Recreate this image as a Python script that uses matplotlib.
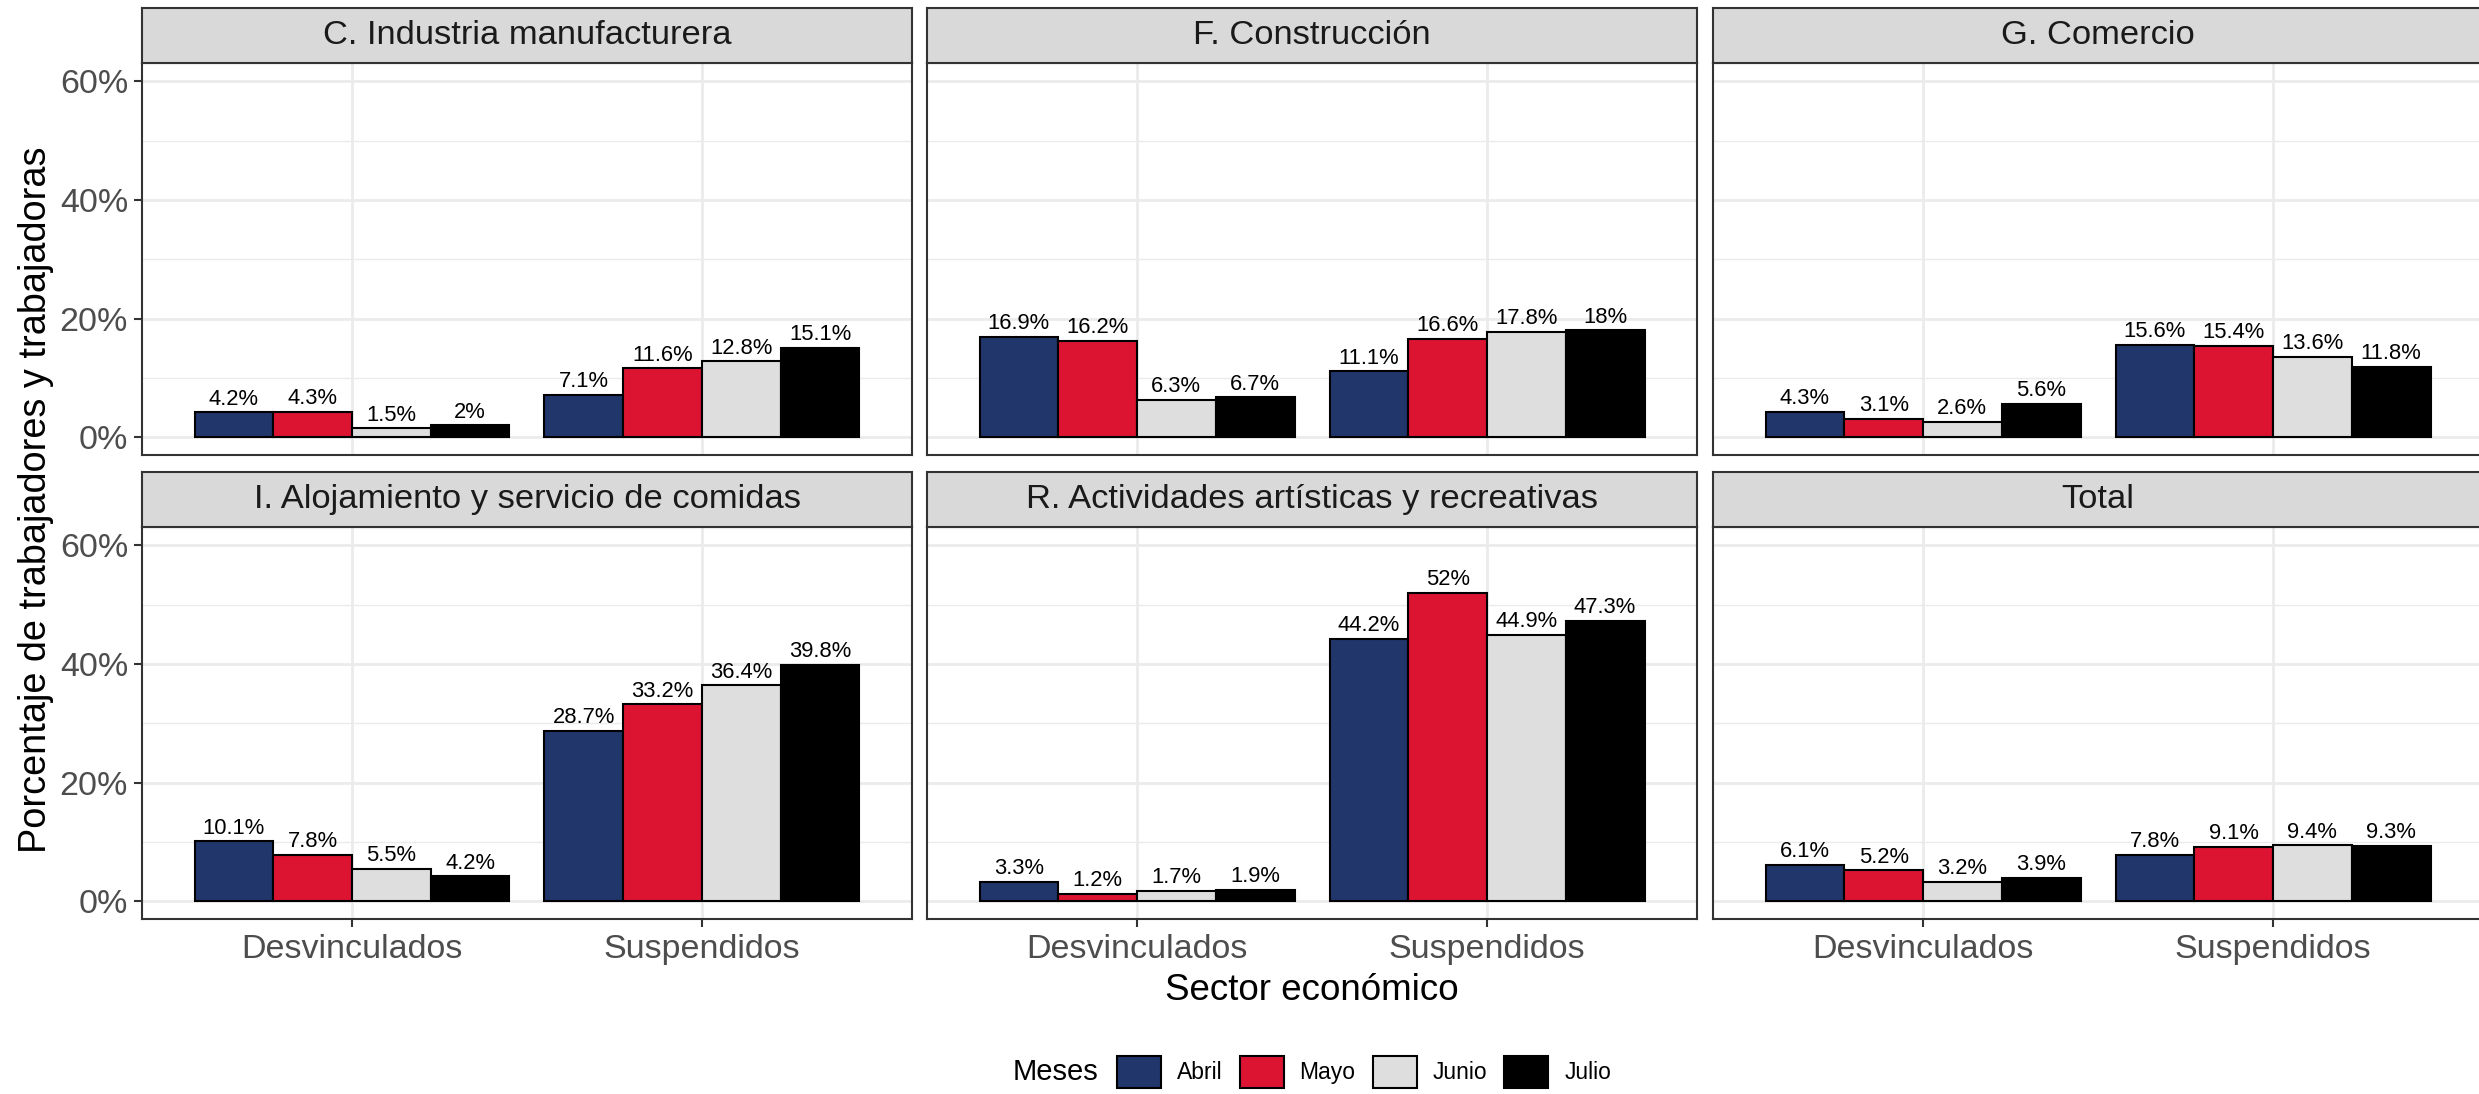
import matplotlib
matplotlib.use("Agg")
import matplotlib.pyplot as plt
from matplotlib.patches import Patch
import numpy as np

plt.rcParams['font.family'] = ['Liberation Sans', 'DejaVu Sans']

# ---------------------------------------------------------------------------- #
# DATA

sectores = ["C. Industria manufacturera", "F. Construcción", "G. Comercio",
            "I. Alojamiento y servicio de comidas",
            "R. Actividades artísticas y recreativas", "Total"]
categorias = ["Desvinculados", "Suspendidos"]
meses = ["Abril", "Mayo", "Junio", "Julio"]
colores = ["#21366B", "#DC1432", "#DEDEDE", "#000000"]

# valores[sector] -> [desvinculados por mes, suspendidos por mes]
industria = [[4.2, 4.3, 1.5, 2.0], [7.1, 11.6, 12.8, 15.1]]
construccion = [[16.9, 16.2, 6.3, 6.7], [11.1, 16.6, 17.8, 18.0]]
comercio = [[4.3, 3.1, 2.6, 5.6], [15.6, 15.4, 13.6, 11.8]]
alojamiento = [[10.1, 7.8, 5.5, 4.2], [28.7, 33.2, 36.4, 39.8]]
actividades = [[3.3, 1.2, 1.7, 1.9], [44.2, 52.0, 44.9, 47.3]]
total = [[6.1, 5.2, 3.2, 3.9], [7.8, 9.1, 9.4, 9.3]]
valores = [industria, construccion, comercio, alojamiento, actividades, total]

yticks = [0, 20, 40, 60]
yticklabels = ["0%", "20%", "40%", "60%"]

# ---------------------------------------------------------------------------- #
# LAYOUT (pixels)

W, H = 2479, 1094
fig = plt.figure(figsize=(W / 100, H / 100), dpi=100)

col_left = [142, 927, 1713]
panel_w = 770
row_strip_top = [8, 472]
row_panel_top = [63, 527]
row_panel_bot = [455, 919]

borde = "#333333"
grid_col = "#EBEBEB"

def fx(x):
    return x / W

def fy(y):
    return 1 - y / H

x_pos = np.arange(1, len(categorias) + 1)
ancho = 0.9 / len(meses)

for i, sector in enumerate(sectores):
    r, c = divmod(i, 3)
    left = col_left[c]
    # panel
    ax = fig.add_axes([fx(left), fy(row_panel_bot[r]), panel_w / W,
                       (row_panel_bot[r] - row_panel_top[r]) / H])
    ax.set_xlim(0.4, 2.6)
    ax.set_ylim(-3.0, 63.1)
    ax.set_axisbelow(True)

    for yv in [10, 30, 50]:
        ax.axhline(yv, color=grid_col, lw=1.0, zorder=0)
    for yv in yticks:
        ax.axhline(yv, color=grid_col, lw=2.0, zorder=0)
    for xv in x_pos:
        ax.axvline(xv, color=grid_col, lw=2.0, zorder=0)

    datos = np.array(valores[i])
    for m, mes in enumerate(meses):
        xs = x_pos - 0.45 + ancho * (m + 0.5)
        alturas = datos[:, m]
        ax.bar(xs, alturas, width=ancho, color=colores[m], edgecolor="black",
               linewidth=1.5, zorder=2)
        for xv, hv in zip(xs, alturas):
            ax.annotate(f"{hv:g}%", (xv, hv), xytext=(0, 2),
                        textcoords="offset points", ha="center", va="bottom",
                        fontsize=15.8, color="black", zorder=3)

    for sp in ax.spines.values():
        sp.set_color(borde)
        sp.set_linewidth(1.5)

    ax.set_yticks(yticks)
    ax.set_xticks(x_pos)
    if c == 0:
        ax.set_yticklabels(yticklabels, fontsize=24.5, color="#4D4D4D")
        ax.tick_params(axis="y", length=6, width=1.5, color=borde, pad=4)
    else:
        ax.tick_params(axis="y", length=0, labelleft=False)
    if r == 1:
        ax.set_xticklabels(categorias, fontsize=24.5, color="#4D4D4D")
        ax.tick_params(axis="x", length=6, width=1.5, color=borde, pad=5)
    else:
        ax.tick_params(axis="x", length=0, labelbottom=False)

    # strip
    sax = fig.add_axes([fx(left), fy(row_panel_top[r]), panel_w / W,
                        (row_panel_top[r] - row_strip_top[r]) / H])
    sax.set_facecolor("#D9D9D9")
    sax.set_xticks([])
    sax.set_yticks([])
    for sp in sax.spines.values():
        sp.set_color(borde)
        sp.set_linewidth(1.5)
    sax.text(0.5, 0.5, sector, transform=sax.transAxes, ha="center",
             va="center", fontsize=24.8, color="#1A1A1A")

# ---------------------------------------------------------------------------- #
# TITLES AND LEGEND

fig.text(fx(36), fy(500), "Porcentaje de trabajadores y trabajadoras",
         rotation=90, ha="center", va="center", fontsize=27.3, color="black")
fig.text(fx(1312), fy(990), "Sector económico", ha="center", va="center",
         fontsize=26.5, color="black")

handles = [Patch(facecolor=col, edgecolor="black", linewidth=1.5)
           for col in colores]
fig.legend(handles, meses, loc="center", bbox_to_anchor=(fx(1364), fy(1072)),
           ncol=4, frameon=False, fontsize=16.5, handlelength=1.92,
           handleheight=1.75, handletextpad=0.7, columnspacing=0.74,
           borderpad=0, borderaxespad=0)
fig.text(fx(1013), fy(1072), "Meses", ha="left", va="center", fontsize=21,
         color="black")

fig.savefig("out.png", dpi=100)
